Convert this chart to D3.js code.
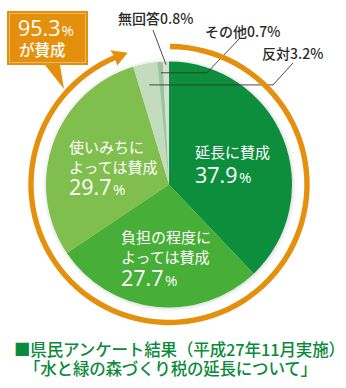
<!DOCTYPE html>
<html><head><meta charset="utf-8">
<script src="https://cdn.jsdelivr.net/npm/d3@7"></script>
<style>
html,body{margin:0;padding:0;background:#fff;}
svg{display:block;font-family:"Noto Sans CJK JP","Noto Sans",sans-serif;}
</style></head>
<body>
<svg id="chart" width="346" height="388"></svg>
<script>
// ---- data ----
const categories = ["延長に賛成","負担の程度によっては賛成","使いみちによっては賛成","反対","その他","無回答"];
const values = [37.9, 27.7, 29.7, 3.2, 0.7, 0.8];
const colors = ["#0b8e3e","#46ae37","#80bf4e","#c3dcbe","#9cc69a","#d9ded8"];
const innerLines = [["延長に賛成"],["負担の程度に","よっては賛成"],["使いみちに","よっては賛成"]];
const outerLabels = ["反対3.2%","その他0.7%","無回答0.8%"];
const approveTotal = 95.3;
const titleLines = ["■県民アンケート結果（平成27年11月実施）","「水と緑の森づくり税の延長について」"];

// ---- layout ----
const W = 346, H = 388, cx = 169, cy = 184.5, R = 123, ringR = 138;
const orange = "#e4900d";
const svg = d3.select("#chart");
const defs = svg.append("defs");
const f = defs.append("filter").attr("id","sh").attr("x","-10%").attr("y","-10%").attr("width","120%").attr("height","120%");
f.append("feDropShadow").attr("dx",0.5).attr("dy",0.5).attr("stdDeviation",2).attr("flood-color","#000").attr("flood-opacity",0.22);

const g = svg.append("g").attr("transform",`translate(${cx},${cy})`);
const pie = d3.pie().sort(null).value(d=>d);
const arcs = pie(values);
const arc = d3.arc().innerRadius(0).outerRadius(R);

const pg = g.append("g").attr("filter","url(#sh)");
pg.selectAll("path").data(arcs).join("path")
  .attr("d",arc).attr("fill",(d,i)=>colors[i]);

// inner labels
const innerLayout = [
  {x:26, y:-26.5, pct:{x:26,y:-1.5}},
  {x:-48, y:58.5, pct:{x:-48,y:101.5}},
  {x:-100, y:-31.5, pct:{x:-100,y:10.5}}
];
innerLayout.forEach((L,i)=>{
  innerLines[i].forEach((t,j)=>{
    g.append("text").attr("x",L.x).attr("y",L.y+j*19.5).attr("fill","#fff")
      .attr("font-size",15).text(t);
  });
  const tx = g.append("text").attr("x",L.pct.x).attr("y",L.pct.y).attr("fill","#fff").attr("font-family","'Open Sans','Noto Sans',sans-serif");
  tx.append("tspan").attr("font-size",21.5).text(d3.format(".1f")(values[i]));
  tx.append("tspan").attr("font-size",15).attr("dx",1.5).text("%");
});

// leader lines for small slices
const leader = [
  {i:3, r:101.5, elbow:[104,-99.5], end:[124,-121.5], label:[93,-125.5]},
  {i:4, r:112, elbow:[38,-111.5], end:[71,-146.5], label:[36,-147.5]},
  {i:5, r:120, elbow:null, end:[-16,-154.5], label:[-51,-160.5]}
];
leader.forEach((L,k)=>{
  const a = arcs[L.i]; const mid = (a.startAngle+a.endAngle)/2;
  const p = d3.pointRadial(mid, L.r);
  let pts;
  if (L.elbow) { pts = [p,[L.elbow[0],p[1]],L.end]; }
  else pts = [p, L.end];
  g.append("path").attr("d",d3.line()(pts)).attr("fill","none").attr("stroke","#333").attr("stroke-width",0.9);
  g.append("text").attr("x",L.label[0]).attr("y",L.label[1]).attr("fill","#2b2b2b")
    .attr("font-size",14).attr("font-weight",500).text(outerLabels[k]);
});

// orange ring arrow
const tipA = 2*Math.PI*(approveTotal/100) - 0.5*Math.PI/180;
const headLen = 15/ringR;
const ringArc = d3.arc().innerRadius(ringR-2.7).outerRadius(ringR+2.7)
  .startAngle(0.4*Math.PI/180).endAngle(tipA-headLen+0.02);
g.append("path").attr("d",ringArc()).attr("fill",orange);
const tip = d3.pointRadial(tipA, ringR);
const b1 = d3.pointRadial(tipA-headLen, ringR-8.5);
const b2 = d3.pointRadial(tipA-headLen, ringR+8.5);
const bm = d3.pointRadial(tipA-headLen+0.012, ringR);
g.append("path").attr("d",d3.line()([tip,b2,bm,b1])+"Z").attr("fill",orange);

// callout box
svg.append("path").attr("d","M7,11H88V65H60L64,89L45,65H7Z").attr("fill",orange);
svg.append("rect").attr("x",9.5).attr("y",13.5).attr("width",76).attr("height",49)
  .attr("fill","none").attr("stroke","#fff").attr("stroke-opacity",0.45).attr("stroke-width",0.8);
const bt = svg.append("text").attr("x",18).attr("y",35.5).attr("fill","#fff").attr("font-family","'Open Sans','Noto Sans',sans-serif");
bt.append("tspan").attr("font-size",21.5).text(d3.format(".1f")(approveTotal));
bt.append("tspan").attr("font-size",15).attr("dx",1).text("%");
svg.append("text").attr("x",19).attr("y",55.5).attr("fill","#fff").attr("font-size",15.5).attr("font-weight",500).text("が賛成");

// title
const titleLayout = [{x:14, len:331, y:355.5},{x:24, len:293, y:374.5}];
titleLines.forEach((t,j)=>{
  const L = titleLayout[j];
  svg.append("text").attr("x",L.x).attr("y",L.y).attr("fill","#0b8a3c")
    .attr("font-size",16.5).attr("font-weight",500)
    .attr("textLength",L.len).attr("lengthAdjust","spacing").text(t);
});
</script>
</body></html>
